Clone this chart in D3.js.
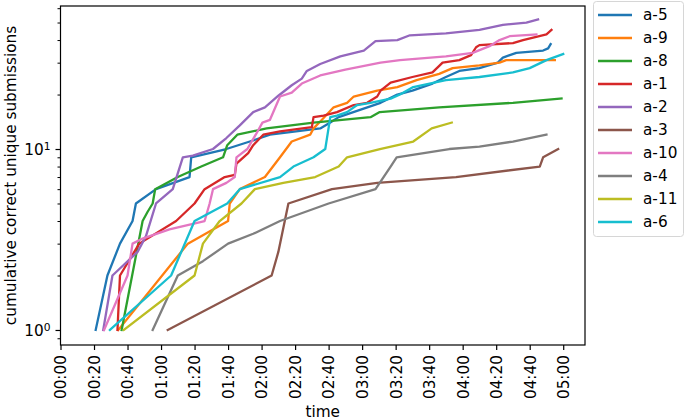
<!DOCTYPE html>
<html>
<head>
<meta charset="utf-8">
<script src="https://cdn.jsdelivr.net/npm/d3@7"></script>
<style>
  body { margin: 0; background: #fff; }
  svg text { font-family: "DejaVu Sans", sans-serif; fill: #000; }
</style>
</head>
<body>
<div id="chart"></div>
<script>
// [minutes since start, cumulative count]
const a5 = [[21,1],[28,2],[35.5,3],[43,4],[45,5],[57,6],[77,7],[78,9],[99,10],[113,11],[125,12],[155,13],[161,14],[166,15],[191,18],[201,20],[210,21],[222,23],[230,25],[238,27],[250,28],[261,30],[264,32],[272,34],[288,35],[291,36],[292.5,38]];
const a9 = [[34.5,1],[76,3],[100,4],[101,5],[107,6],[122,7],[131,9],[138,11],[149,12],[151,13],[156,14.5],[163,17],[171,18],[175,19.5],[189,21],[201,22],[212.5,24],[226,26],[234,28],[250,29],[262,30],[266,31],[295,31]];
const a8 = [[36.5,1],[49,4],[52,4.5],[55,5],[56.5,6],[70,7],[84,8],[97,9],[99.5,10.5],[105.5,12],[123,13],[151,14],[185,15],[190.5,16],[226,17],[270,18],[299,19]];
const a1 = [[34,1],[35.5,2],[47,3],[69,4],[80,5],[86,6],[98,7],[104,7.2],[105,8.3],[112,9.5],[115,10.5],[121,12],[131,12.5],[150,13.2],[151,15],[157,15.3],[165,16],[175,17.5],[183,18],[189,19.5],[191,21],[197,23.3],[210,25],[222,26.5],[228,30],[238,31],[245,33],[248,36.5],[250,37.5],[270,38.5],[276,40],[290,43],[293,45.5]];
const a2 = [[25.5,1],[31,2],[46,2.7],[51,3.3],[57,5],[67,6],[73,9],[79,9.2],[91,10],[99,11.5],[107,13.5],[115,16],[122,17],[130,19.7],[138,22.5],[144,24.5],[147,27],[155,29.5],[167,32.5],[181,35],[188,39.5],[201,40],[208.5,42.5],[230,43.5],[250,45.5],[264,48.5],[278,50],[285,52]];
const a3 = [[64,1],[126,2],[130,2.7],[136,5],[162,6],[189,6.5],[236,7],[286,8],[288,9],[297,10]];
const a10 = [[26,1],[40,2],[43,3],[49,3.2],[65,3.6],[86,4],[89,5],[91,6],[99,6.5],[104,7],[105,9],[111.5,10],[116.5,12],[120.5,14],[125,14.5],[131,19.5],[138,20.5],[144,23],[155,25.5],[170,27.5],[191,30],[202.6,31],[230,32.5],[246,34],[256,37],[262,40],[268,42],[284,43]];
const a4 = [[55,1],[70,2],[85,2.4],[100,3],[115,3.4],[131,4],[160,5],[188,6],[197,8],[200.6,9],[232,10],[250,10.3],[270,11],[290,12]];
const a11 = [[37.8,1],[80,2],[85,3],[95,4],[108,5],[116,6],[133,6.5],[152,7],[166,8],[171,9],[190.6,10],[210.5,11],[221.5,13],[233.5,14]];
const a6 = [[29.5,1],[66,2],[80,4],[99.5,5],[107,6],[131,7],[139,8],[151,9],[158,10],[161,15],[165,15.3],[171,16],[177,17.5],[185,18],[197,19],[202.6,20],[210.5,22],[230,24],[250,25],[270,26.5],[280,28],[290,31],[300,33.5]];

const names = ["a-5","a-9","a-8","a-1","a-2","a-3","a-10","a-4","a-11","a-6"];
const series = [a5, a9, a8, a1, a2, a3, a10, a4, a11, a6];
const colors = ["#1f77b4","#ff7f0e","#2ca02c","#d62728","#9467bd","#8c564b","#e377c2","#7f7f7f","#bcbd22","#17becf"];
const xTicks = d3.range(0, 301, 20); // minutes
const yMinor = [0.9,2,3,4,5,6,7,8,9,20,30,40,50,60];

const w = 685, h = 420;
const pLeft = 60.5, pRight = 585, pTop = 6, pBottom = 345;
const fs = "15.3px";

const svg = d3.select("#chart").append("svg")
    .attr("width", w)
    .attr("height", h);

const x = d3.scaleLinear().domain([0, 313]).range([pLeft, pRight]);
const y = d3.scaleLog().domain([0.826, 61.7]).range([pBottom, pTop]);

const fmt = m => d3.format("02d")(Math.floor(m / 60)) + ":" + d3.format("02d")(m % 60);

// lines
const line = d3.line().x(d => x(d[0])).y(d => y(d[1]));
svg.append("g").selectAll("path")
    .data(series)
    .enter()
    .append("path")
    .attr("d", line)
    .attr("fill", "none")
    .attr("stroke", (d, i) => colors[i])
    .attr("stroke-width", 2.3)
    .attr("stroke-linejoin", "round")
    .attr("stroke-linecap", "square");

// x axis
const xAxis = d3.axisBottom(x).tickValues(xTicks).tickFormat(fmt).tickSize(5).tickPadding(4);
const gx = svg.append("g")
    .attr("transform", "translate(0," + pBottom + ")")
    .call(xAxis);
gx.select(".domain").remove();
gx.selectAll("line").attr("stroke", "#000").attr("stroke-width", 1.2);
gx.selectAll("text")
    .style("font-size", fs)
    .attr("text-anchor", "end")
    .attr("transform", "rotate(-90)")
    .attr("x", -10)
    .attr("y", 0)
    .attr("dy", "0.35em");

// y axis: major ticks
const yAxis = d3.axisLeft(y).tickValues([1, 10]).tickFormat("").tickSize(5);
const gy = svg.append("g")
    .attr("transform", "translate(" + pLeft + ",0)")
    .call(yAxis);
gy.select(".domain").remove();
gy.selectAll("line").attr("stroke", "#000").attr("stroke-width", 1.2);
gy.selectAll(".tick").each(function (d) {
    const t = d3.select(this).append("text")
        .attr("x", -10)
        .attr("dy", "0.35em")
        .attr("text-anchor", "end")
        .style("font-size", fs);
    t.append("tspan").text("10");
    t.append("tspan").attr("dy", "-0.45em").style("font-size", "10.7px").text(d === 1 ? "0" : "1");
});

// y axis: minor ticks
const yAxisMinor = d3.axisLeft(y).tickValues(yMinor).tickFormat("").tickSize(3);
const gym = svg.append("g")
    .attr("transform", "translate(" + pLeft + ",0)")
    .call(yAxisMinor);
gym.select(".domain").remove();
gym.selectAll("line").attr("stroke", "#000").attr("stroke-width", 1);

// frame
svg.append("rect")
    .attr("x", pLeft)
    .attr("y", pTop)
    .attr("width", pRight - pLeft)
    .attr("height", pBottom - pTop)
    .attr("fill", "none")
    .attr("stroke", "#000")
    .attr("stroke-width", 1.2);

// axis labels
svg.append("text")
    .attr("x", (pLeft + pRight) / 2)
    .attr("y", 417)
    .attr("text-anchor", "middle")
    .style("font-size", fs)
    .text("time");
svg.append("text")
    .attr("transform", "rotate(-90)")
    .attr("x", -(pTop + pBottom) / 2)
    .attr("y", 16)
    .attr("text-anchor", "middle")
    .style("font-size", fs)
    .text("cumulative correct unique submissions");

// legend
const lg = svg.append("g");
lg.append("rect")
    .attr("x", 593.5)
    .attr("y", 1.5)
    .attr("width", 90)
    .attr("height", 235)
    .attr("rx", 3)
    .attr("fill", "#fff")
    .attr("fill-opacity", 0.8)
    .attr("stroke", "#d6d6d6");
const items = lg.selectAll("g.item")
    .data(names)
    .enter()
    .append("g")
    .attr("class", "item")
    .attr("transform", (d, i) => "translate(0," + (15 + 23 * i) + ")");
items.append("line")
    .attr("x1", 598).attr("x2", 632)
    .attr("stroke", (d, i) => colors[i])
    .attr("stroke-width", 2.3);
items.append("text")
    .attr("x", 643)
    .attr("dy", "0.35em")
    .style("font-size", fs)
    .text(d => d);
</script>
</body>
</html>
